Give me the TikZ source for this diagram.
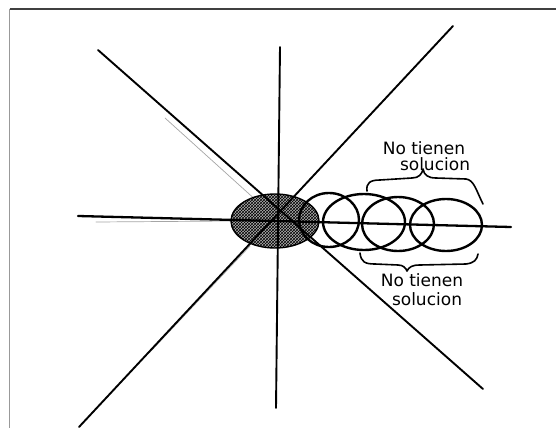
\documentclass[tikz,border=0pt]{standalone}
\usepackage{fontspec}
\setmainfont{DejaVu Sans}
\usetikzlibrary{patterns}
\tikzset{
  axisline/.style={line width=1.9pt, line cap=round, black},
  ghostline/.style={line width=0.7pt, line cap=round, gray!70},
  loop/.style={line width=2.4pt, black},
  bracepath/.style={line width=1.6pt, line cap=round, line join=round, black},
  hand/.style={font=\fontsize{17}{17}\selectfont, inner sep=0pt},
  framel/.style={line width=1.2pt, black!75},
  framer/.style={line width=1.4pt, gray!80}
}
\begin{document}
\begin{tikzpicture}[x=1pt,y=-1pt]
\useasboundingbox (0,0) rectangle (556,428);
\fill[white] (0,0) rectangle (556,428);
% frame
\coordinate (fTL) at (9.5,9);
\coordinate (fTR) at (556,9);
\coordinate (fBL) at (9.5,428);
\draw[framel] (fTL) -- (fTR);
\draw[framer] (fTL) -- (fBL);
% line end points
\coordinate (vT) at (280,47);
\coordinate (vB) at (276,408);
\coordinate (hL) at (78,216);
\coordinate (hR) at (511,227);
\coordinate (d1A) at (98,50);
\coordinate (d1B) at (483,389);
\coordinate (d2A) at (453,26);
\coordinate (d2B) at (79,427);
% ghost strokes
\coordinate (g1A) at (96,222);
\coordinate (g1B) at (232,221);
\coordinate (g2A) at (165,118);
\coordinate (g2B) at (258,202);
\coordinate (g3A) at (150,352);
\coordinate (g3B) at (250,246);
\draw[ghostline] (g1A) -- (g1B);
\draw[ghostline] (g2A) -- (g2B);
\draw[ghostline] (g3A) -- (g3B);
% hatched ellipse
\coordinate (c0) at (275,221);
\fill[gray!60] (c0) ellipse [x radius=44, y radius=27];
\fill[pattern=crosshatch, pattern color=black] (c0) ellipse [x radius=44, y radius=27];
\draw[line width=1.4pt] (c0) ellipse [x radius=44, y radius=27];
% loops
\coordinate (c1) at (329,220);
\coordinate (c2) at (364,222);
\coordinate (c3) at (398,224);
\coordinate (c4) at (446,225);
\draw[loop] (c1) ellipse [x radius=30, y radius=27];
\draw[loop] (c2) ellipse [x radius=41, y radius=28];
\draw[loop] (c3) ellipse [x radius=36, y radius=27];
\draw[loop] (c4) ellipse [x radius=36, y radius=26];
% main lines
\draw[axisline] (vT) -- (vB);
\draw[axisline, line width=2.3pt] (hL) -- (hR);
\draw[axisline] (d1A) -- (d1B);
\draw[axisline] (d2A) -- (d2B);
% braces
\coordinate (bt1) at (367,191);
\coordinate (bt2) at (483,204);
\draw[bracepath] (bt1) .. controls (366,183) and (370,180) .. (380,180) -- (412,178)
  .. controls (419,178) and (422,174) .. (423,169)
  .. controls (424,175) and (428,178) .. (436,178) -- (466,179)
  .. controls (474,180) and (476,190) .. (bt2);
\coordinate (bb1) at (360,253);
\coordinate (bb2) at (478,254);
\draw[bracepath] (bb1) .. controls (361,262) and (365,264) .. (375,264) -- (398,265)
  .. controls (403,265) and (406,268) .. (407,271)
  .. controls (409,267) and (412,265) .. (420,265) -- (466,264)
  .. controls (474,263) and (477,260) .. (bb2);
% labels
\node[hand] (t1) at (424,148) {No tienen};
\node[hand] (t2) at (435,164) {solucion};
\node[hand] (t3) at (422,280) {No tienen};
\node[hand] (t4) at (427,299) {solucion};
\end{tikzpicture}
\end{document}
